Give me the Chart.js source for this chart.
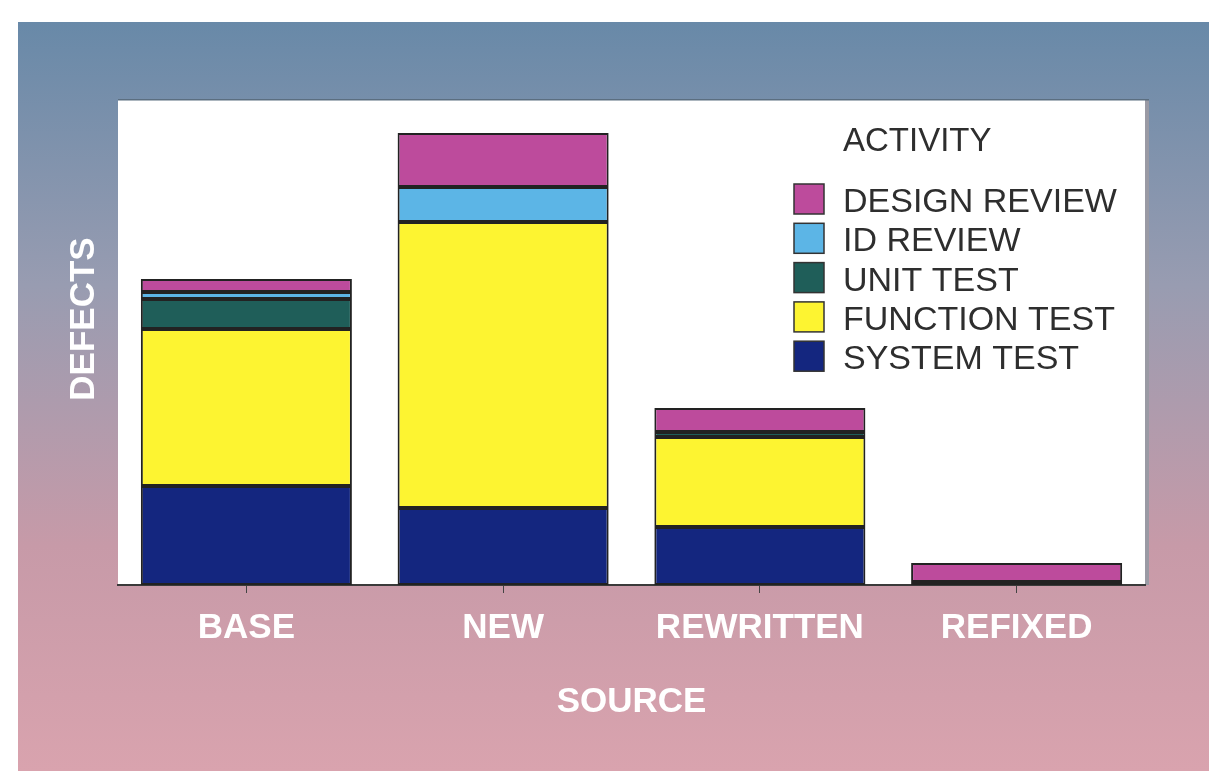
<!DOCTYPE html>
<html>
<head>
<meta charset="utf-8">
<title>Defects by source and activity</title>
<script src="https://cdn.jsdelivr.net/npm/chart.js@4.4.1/dist/chart.umd.min.js"></script>
<style>
  html, body { margin: 0; padding: 0; background: #fff; }
  #wrap { width: 1209px; height: 771px; }
</style>
</head>
<body>
<div id="wrap"><canvas id="chartDefects" width="1209" height="771"></canvas></div>
<script>
// données (unités arbitraires, pas de graduation visible)
const categories = ['BASE', 'NEW', 'REWRITTEN', 'REFIXED'];
const activities = ['SYSTEM TEST', 'FUNCTION TEST', 'UNIT TEST', 'ID REVIEW', 'DESIGN REVIEW'];
const systemTest   = [49.5, 38.5, 29, 1.5];
const functionTest = [78.5, 143, 45, null];
const unitTest     = [15, null, 2.5, null];
const idReview     = [3.5, 17.5, null, null];
const designReview = [6.5, 27, 12, 9.5];
const yMax = 242.5;

const seriesValues = [systemTest, functionTest, unitTest, idReview, designReview];
const seriesColors = ['#14267f', '#fdf431', '#1f5e59', '#5cb5e6', '#bd4b9c'];

const FONT = "'Liberation Sans', Arial, Helvetica, sans-serif";

// fond dégradé + zone blanche
const backdrop = {
    id: 'backdrop',
    beforeDraw(chart) {
        const { ctx, chartArea: a, width, height } = chart;
        ctx.save();
        ctx.fillStyle = '#fff';
        ctx.fillRect(0, 0, width, height);
        const g = ctx.createLinearGradient(0, 22, 0, height);
        g.addColorStop(0, '#6889a8');
        g.addColorStop(0.35, '#989cb1');
        g.addColorStop(0.7, '#c79aa8');
        g.addColorStop(1, '#d9a3ae');
        ctx.fillStyle = g;
        ctx.fillRect(18, 22, width - 18, height - 22);
        ctx.fillStyle = '#fff';
        ctx.fillRect(a.left, a.top, a.right - a.left, a.bottom - a.top);
        ctx.fillStyle = '#9a9aa4';
        ctx.fillRect(a.right, a.top, 4, a.bottom - a.top);
        ctx.fillStyle = '#5b6e80';
        ctx.fillRect(a.left, a.top - 1, a.right - a.left + 4, 1.5);
        ctx.restore();
    },
    afterDraw(chart) {
        const { ctx } = chart;
        ctx.save();
        // titre axe Y
        ctx.translate(84, 319);
        ctx.rotate(-Math.PI / 2);
        ctx.fillStyle = '#fff';
        ctx.font = 'bold 35px ' + FONT;
        ctx.textAlign = 'center';
        ctx.textBaseline = 'middle';
        ctx.fillText('DEFECTS', 0, 0);
        ctx.restore();

        // légende dans la zone du graphique
        ctx.save();
        ctx.fillStyle = '#2e2e2e';
        ctx.font = '33px ' + FONT;
        ctx.textAlign = 'left';
        ctx.textBaseline = 'alphabetic';
        ctx.fillText('ACTIVITY', 843, 151);
        ctx.font = '34px ' + FONT;
        const ds = chart.data.datasets.slice().reverse();
        ds.forEach((d, i) => {
            const y = 184 + i * 39.3;
            ctx.fillStyle = d.backgroundColor;
            ctx.fillRect(794, y, 30, 30);
            ctx.strokeStyle = '#333';
            ctx.lineWidth = 1.5;
            ctx.strokeRect(794, y, 30, 30);
            ctx.fillStyle = '#2e2e2e';
            ctx.fillText(d.label, 843, y + 28);
        });
        ctx.restore();
    }
};

new Chart(document.getElementById('chartDefects'), {
    type: 'bar',
    data: {
        labels: categories,
        datasets: activities.map((name, i) => ({
            label: name,
            data: seriesValues[i],
            backgroundColor: seriesColors[i],
            borderColor: '#222',
            borderWidth: 2,
            borderSkipped: false,
            categoryPercentage: 1,
            barPercentage: 0.822
        }))
    },
    options: {
        responsive: false,
        animation: false,
        layout: { padding: { left: 118, top: 100, right: 64, bottom: 0 } },
        plugins: {
            legend: { display: false },
            tooltip: { enabled: false }
        },
        scales: {
            x: {
                stacked: true,
                afterFit: (s) => { s.height = 186; },
                border: { color: '#3a3a3a', width: 2 },
                grid: { display: true, drawOnChartArea: false, drawTicks: true, tickLength: 8, offset: false, color: '#444' },
                ticks: { color: '#fff', padding: 14, font: { family: FONT, size: 35, weight: 'bold' } },
                title: {
                    display: true,
                    text: 'SOURCE',
                    color: '#fff',
                    font: { family: FONT, size: 35, weight: 'bold' },
                    padding: { top: 0, bottom: 48 }
                }
            },
            y: {
                stacked: true,
                display: false,
                min: 0,
                max: yMax
            }
        }
    },
    plugins: [backdrop]
});
</script>
</body>
</html>
